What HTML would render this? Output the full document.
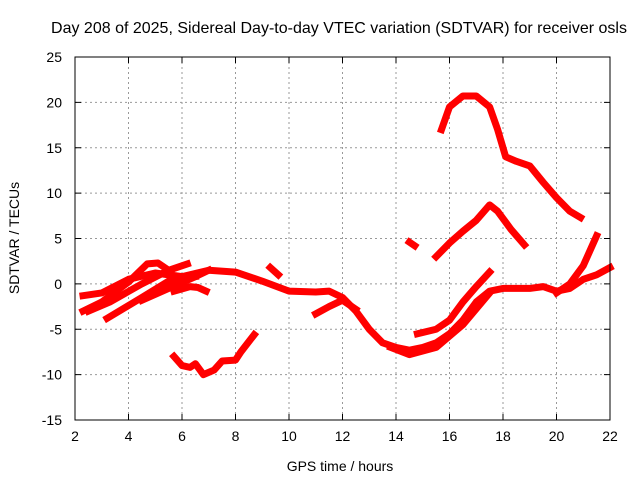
<!DOCTYPE html>
<html><head><meta charset="utf-8"><style>
body{margin:0;background:#fff}
svg text{font-family:"Liberation Sans",sans-serif;font-size:14px;fill:#000}
</style></head><body>
<svg id="c" width="640" height="480" xmlns="http://www.w3.org/2000/svg">
<rect width="640" height="480" fill="#fff"/>
<g id="grid"></g>
<g id="series"></g>
<rect x="75" y="57" width="535" height="363" fill="none" stroke="#000"/>
<g id="ticks"></g>
<text x="339" y="33" text-anchor="middle" style="font-size:16px">Day 208 of 2025, Sidereal Day-to-day VTEC variation (SDTVAR) for receiver osls</text>
<text x="340" y="471" text-anchor="middle">GPS time / hours</text>
<text x="19" y="238" text-anchor="middle" transform="rotate(-90 19 238)">SDTVAR / TECUs</text>
</svg>
<script>
const xTicks=[2,4,6,8,10,12,14,16,18,20,22];
const yTicks=[-15,-10,-5,0,5,10,15,20,25];
const trackMain=[[2.3,-1.3],[3,-1],[4,0.5],[5,1.2],[6,0.8],[7,1.5],[8,1.3],[9,0.3],[10,-0.8],[11,-0.9],[11.5,-0.8],[12,-1.5],[12.5,-3],[13,-5],[13.5,-6.5],[14,-7],[14.5,-7.3],[15,-7],[15.5,-6.5],[16,-5.5],[16.5,-4],[17,-2],[17.5,-0.8],[18,-0.5],[18.5,-0.5],[19,-0.5],[19.5,-0.3],[20,-0.8],[20.5,-0.5],[21,0.5],[21.5,1],[22,1.8]];
const trackB=[[2.3,-3],[3,-2],[4,0.2],[4.7,2.2],[5.1,2.3],[5.5,1.5]];
const trackC=[[2.5,-3],[3.3,-2],[4.5,0],[5.5,1.5],[6.2,2.2]];
const trackD=[[3.2,-3.8],[4.5,-1.5],[5.5,0.3],[6.5,0.8]];
const trackE=[[4.5,-1.8],[5.5,-0.5],[6.5,0.8],[7,1.5]];
const trackF=[[5.7,-0.8],[6.3,-0.3],[6.6,-0.4],[6.9,-0.8]];
const trackG=[[5.7,-8],[6,-9],[6.3,-9.2],[6.5,-8.8],[6.8,-10],[7.2,-9.5],[7.5,-8.5],[8,-8.4],[8.2,-7.5],[8.7,-5.6]];
const trackH=[[9.3,1.8],[9.6,1]];
const trackI=[[11,-3.3],[11.5,-2.5],[12,-1.8],[12.5,-2.8]];
const trackTop=[[15.7,17],[16,19.5],[16.5,20.7],[17,20.7],[17.5,19.5],[17.8,17],[18.1,14],[18.5,13.5],[19,13],[19.5,11.2],[20,9.5],[20.5,8],[20.9,7.3]];
const trackMid=[[15.5,3],[16,4.5],[16.5,5.8],[17,7],[17.5,8.7],[17.8,8],[18.3,6],[18.8,4.3]];
const trackSmall=[[14.5,4.6],[14.7,4.2]];
const trackRise=[[14.8,-5.5],[15.5,-5],[16,-4],[16.5,-2],[17,-0.3],[17.5,1.3]];
const trackRight=[[20,-1],[20.5,0],[21,2],[21.5,5.3]];
const trackLow=[[13.8,-7],[14.5,-7.8],[15.5,-7],[16.5,-4.5],[17.5,-1]];
const tracks=[trackMain,trackB,trackC,trackD,trackE,trackF,trackG,trackH,trackI,trackTop,trackMid,trackSmall,trackRise,trackRight,trackLow];
const NS="http://www.w3.org/2000/svg";
const X=v=>75+(v-2)*535/20, Y=v=>57+(25-v)*363/40;
const grid=document.getElementById('grid'),ticks=document.getElementById('ticks'),ser=document.getElementById('series');
function mk(tag,a,p){const e=document.createElementNS(NS,tag);for(const k in a)e.setAttribute(k,a[k]);p.appendChild(e);return e;}
xTicks.forEach(t=>{const x=X(t);
 if(t>2&&t<22){const g=mk('line',{x1:x,x2:x,y1:57,y2:420,stroke:'#999','stroke-dasharray':'2,3'},grid);
 
 }
 mk('line',{x1:x,x2:x,y1:420,y2:414,stroke:'#000'},ticks);mk('line',{x1:x,x2:x,y1:57,y2:63,stroke:'#000'},ticks);
 const l=mk('text',{x:x,y:441,'text-anchor':'middle'},ticks);l.textContent=t;
 
 });
yTicks.forEach(t=>{const y=Y(t);
 if(t>-15&&t<25){const g=mk('line',{x1:75,x2:610,y1:y,y2:y,stroke:'#999','stroke-dasharray':'2,3'},grid);
 
 }
 mk('line',{x1:75,x2:81,y1:y,y2:y,stroke:'#000'},ticks);mk('line',{x1:604,x2:610,y1:y,y2:y,stroke:'#000'},ticks);
 const l=mk('text',{x:62,y:y+5,'text-anchor':'end'},ticks);l.textContent=t;
 
 });
tracks.forEach(tr=>{const p=mk('polyline',{points:tr.map(d=>X(d[0])+','+Y(d[1])).join(' '),fill:'none',stroke:'#f00','stroke-width':7,'stroke-linejoin':'round','stroke-linecap':'square'},ser);
 
 });
</script>
</body></html>
